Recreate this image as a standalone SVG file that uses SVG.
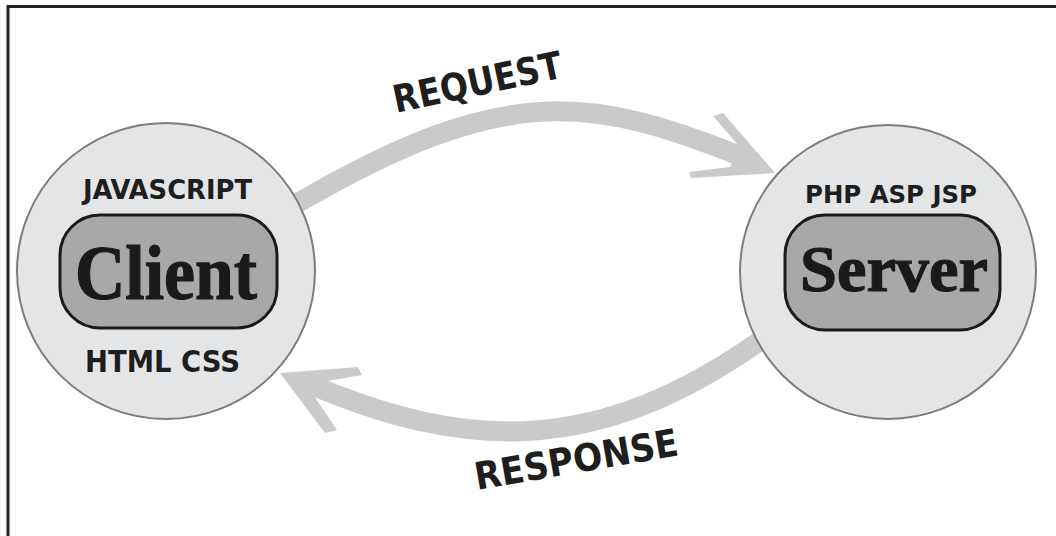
<svg xmlns="http://www.w3.org/2000/svg" width="1056" height="536" viewBox="0 0 1056 536">
<style>
.frame{stroke:#222;stroke-width:3;fill:none}
.band{fill:none;stroke:#c9cacc;stroke-width:20;stroke-linecap:butt;stroke-linejoin:round}
.head{fill:#c9cacc}
.circ{fill:#e4e5e7;stroke:#7d7d7d;stroke-width:2}
.box{fill:#a7a8aa;stroke:#1a1a1a;stroke-width:3}
.tech{font-family:"DejaVu Sans Condensed","DejaVu Sans",sans-serif;font-weight:bold;fill:#1e1e1e}
.big{font-family:"Liberation Serif","Times New Roman",serif;font-weight:bold;fill:#1a1a1a;stroke:#1a1a1a;stroke-width:1.2}
</style>
<rect width="1056" height="536" fill="#ffffff"/>
<path class="frame" d="M8 536 V6.5 H1056"/>
<g id="connectors">
<path class="band" d="M285 210 L303 200 C 503 85, 587 94, 745 158"/>
<polygon class="head" points="775,173 723,113 713,116 738,145 735,158 730,167 689,172 691,178"/>
<path class="band" d="M773 332 L757 343 C 601 451, 473 456, 300 380"/>
<polygon class="head" points="280,373 358,367 362,375 322,382 314,396 337,430 325,433"/>
</g>
<g id="client">
<ellipse class="circ" cx="166" cy="271" rx="149" ry="148"/>
<rect class="box" x="60" y="215" width="217" height="113" rx="40" ry="40"/>
<text class="tech" x="83" y="199" font-size="27" textLength="169" lengthAdjust="spacingAndGlyphs">JAVASCRIPT</text>
<text class="big" x="75" y="299" font-size="78" textLength="182" lengthAdjust="spacingAndGlyphs">Client</text>
<text class="tech" x="85" y="372" font-size="30" textLength="155" lengthAdjust="spacingAndGlyphs">HTML CSS</text>
</g>
<g id="server">
<ellipse class="circ" cx="888" cy="272" rx="148" ry="147"/>
<rect class="box" x="785" y="215" width="215" height="115" rx="40" ry="40"/>
<text class="tech" x="805" y="203" font-size="25" textLength="172" lengthAdjust="spacingAndGlyphs">PHP ASP JSP</text>
<text class="big" x="800" y="291" font-size="66" textLength="188" lengthAdjust="spacingAndGlyphs">Server</text>
</g>
<g id="labels">
<text class="tech" font-size="38" textLength="172" lengthAdjust="spacingAndGlyphs" transform="translate(396 113) rotate(-12)">REQUEST</text>
<text class="tech" font-size="38" textLength="206" lengthAdjust="spacingAndGlyphs" transform="translate(477 490) rotate(-9.8)">RESPONSE</text>
</g>
</svg>
